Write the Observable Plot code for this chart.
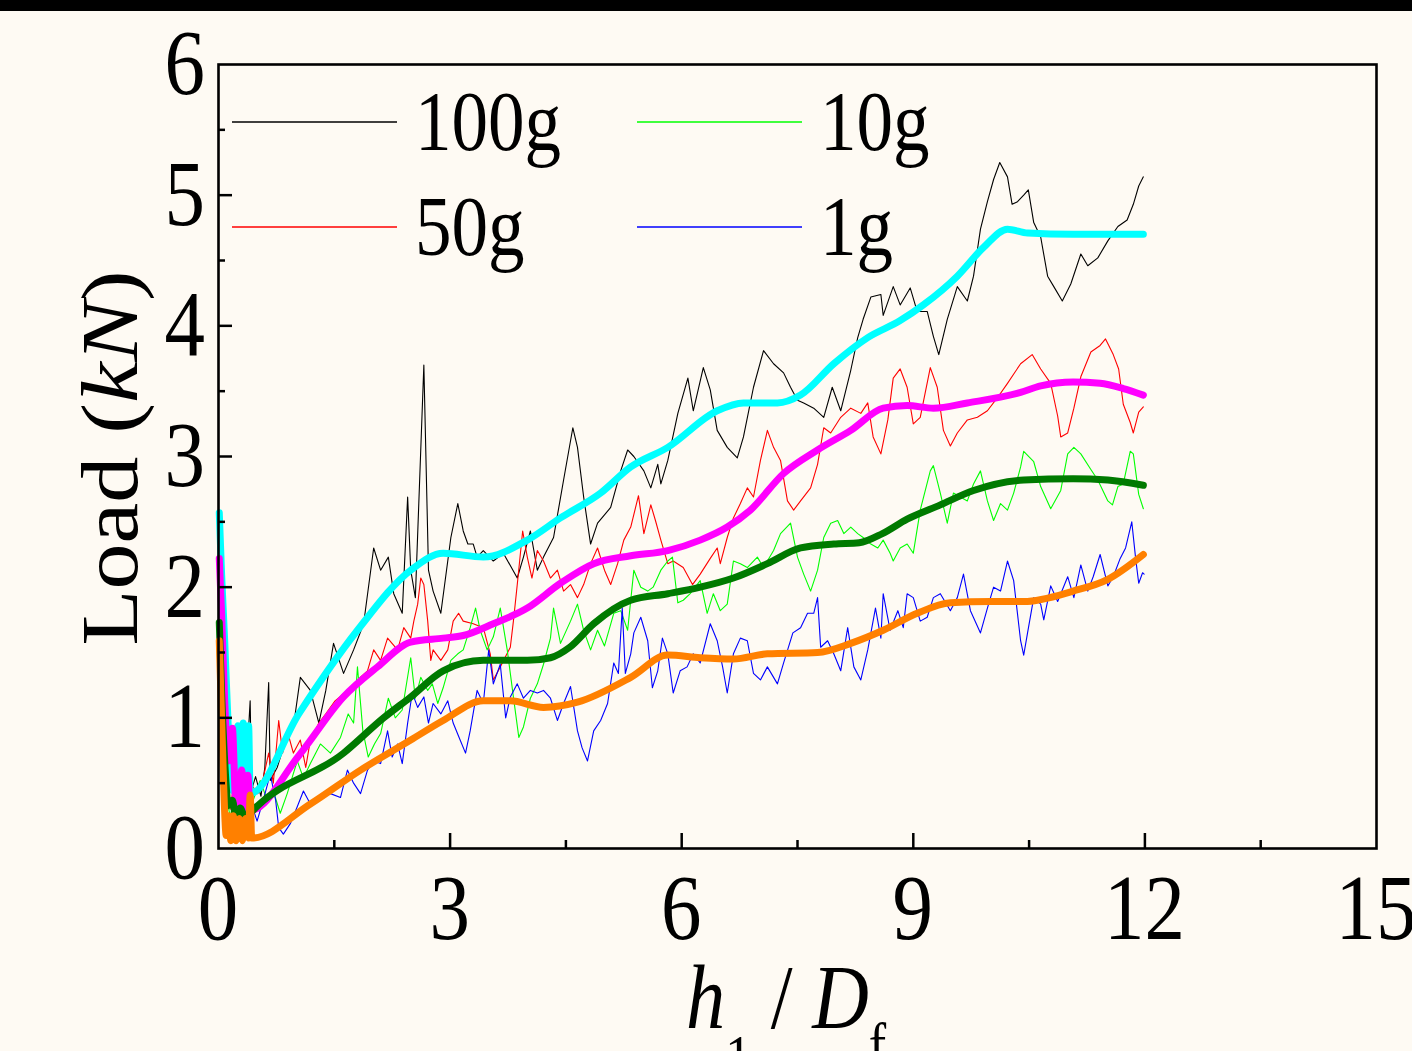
<!DOCTYPE html>
<html><head><meta charset="utf-8">
<script src="https://cdn.jsdelivr.net/npm/d3@7"></script>
<script src="https://cdn.jsdelivr.net/npm/@observablehq/plot@0.6"></script>
<style>
html,body{margin:0;padding:0;background:#fefaf3;}
#chart{width:1412px;height:1051px;overflow:hidden;}
</style></head><body><div id="chart"></div>
<script>
// ---- data ----
const seriesNames = ["100g", "50g", "10g", "1g"];
const rawColors = ["#000000", "#ff0000", "#00ff00", "#0000ff"];
const fitColors = ["#00ffff", "#ff00ff", "#007a00", "#ff8000"];
const xMajor = [0, 3, 6, 9, 12, 15];
const xMinor = [1.5, 4.5, 7.5, 10.5, 13.5];
const yMajor = [0, 1, 2, 3, 4, 5, 6];
const yMinor = [0.5, 1.5, 2.5, 3.5, 4.5, 5.5];

const raw100g = [[0.01,2.40],[0.05,1.60],[0.10,0.90],[0.15,0.55],[0.20,0.70],[0.25,0.40],[0.30,0.75],[0.35,0.50],[0.41,1.13],[0.43,0.45],[0.48,0.55],[0.55,0.40],[0.60,0.62],[0.65,1.27],[0.67,0.52],[0.76,0.62],[0.84,0.77],[0.97,0.93],[1.06,1.31],[1.19,1.21],[1.30,0.96],[1.39,1.21],[1.49,1.57],[1.62,1.34],[1.75,1.52],[1.88,1.72],[2.01,2.30],[2.10,2.13],[2.20,2.23],[2.27,1.95],[2.38,1.80],[2.45,2.69],[2.49,2.13],[2.55,1.92],[2.66,3.70],[2.72,2.13],[2.78,1.97],[2.88,1.80],[3.01,2.38],[3.10,2.64],[3.17,2.43],[3.23,2.33],[3.30,2.33],[3.35,2.23],[3.43,2.28],[3.56,2.20],[3.69,2.26],[3.87,2.07],[3.95,2.23],[4.04,2.43],[4.13,2.13],[4.21,2.23],[4.34,2.38],[4.47,2.82],[4.59,3.22],[4.65,3.07],[4.73,2.69],[4.82,2.33],[4.91,2.49],[5.08,2.61],[5.21,2.89],[5.30,3.05],[5.38,3.00],[5.51,2.89],[5.60,2.76],[5.69,2.94],[5.73,2.79],[5.82,2.97],[5.95,3.33],[6.08,3.60],[6.15,3.35],[6.28,3.68],[6.37,3.51],[6.46,3.20],[6.59,3.07],[6.72,2.99],[6.80,3.15],[6.93,3.53],[7.06,3.81],[7.19,3.71],[7.32,3.64],[7.41,3.53],[7.50,3.43],[7.58,3.41],[7.71,3.37],[7.84,3.30],[7.95,3.53],[8.06,3.35],[8.19,3.66],[8.28,3.91],[8.35,4.05],[8.45,4.22],[8.58,4.24],[8.61,4.08],[8.74,4.30],[8.83,4.16],[8.96,4.29],[9.05,4.11],[9.18,4.11],[9.26,3.92],[9.33,3.78],[9.44,4.05],[9.57,4.30],[9.70,4.19],[9.78,4.38],[9.87,4.74],[9.96,4.95],[10.04,5.12],[10.12,5.25],[10.22,5.14],[10.28,4.93],[10.35,4.95],[10.43,5.00],[10.49,5.04],[10.56,4.79],[10.65,4.68],[10.74,4.38],[10.82,4.30],[10.93,4.19],[11.04,4.32],[11.17,4.55],[11.26,4.46],[11.39,4.52],[11.52,4.65],[11.65,4.76],[11.77,4.81],[11.85,4.93],[11.92,5.07],[11.98,5.14]];

const raw50g = [[0.01,2.20],[0.05,1.20],[0.10,0.50],[0.15,0.30],[0.20,0.50],[0.25,0.20],[0.30,0.45],[0.35,0.25],[0.41,0.50],[0.51,0.42],[0.58,0.54],[0.65,0.73],[0.71,0.50],[0.78,0.98],[0.83,0.73],[0.90,0.88],[0.97,0.73],[1.06,0.83],[1.13,0.62],[1.19,0.83],[1.30,0.96],[1.39,1.03],[1.51,1.13],[1.67,1.21],[1.80,1.29],[1.93,1.36],[2.01,1.52],[2.10,1.44],[2.19,1.61],[2.32,1.52],[2.40,1.69],[2.49,1.61],[2.53,1.74],[2.58,1.87],[2.62,2.07],[2.66,2.02],[2.71,1.74],[2.75,1.44],[2.78,1.52],[2.88,1.44],[2.97,1.52],[3.04,1.74],[3.11,1.80],[3.17,1.74],[3.30,1.72],[3.43,1.69],[3.52,1.49],[3.56,1.29],[3.65,1.39],[3.78,1.54],[3.82,1.74],[3.87,2.02],[3.94,2.43],[4.00,2.23],[4.06,2.07],[4.13,2.28],[4.21,2.20],[4.30,2.07],[4.39,2.13],[4.47,1.97],[4.56,2.02],[4.65,1.92],[4.73,2.02],[4.82,2.18],[4.91,2.30],[5.00,2.13],[5.08,2.02],[5.17,2.18],[5.25,2.36],[5.34,2.46],[5.44,2.70],[5.51,2.41],[5.60,2.63],[5.66,2.51],[5.73,2.36],[5.82,2.18],[5.89,2.20],[6.02,2.15],[6.14,2.02],[6.24,2.10],[6.37,2.22],[6.46,2.30],[6.50,2.18],[6.59,2.38],[6.67,2.53],[6.76,2.64],[6.85,2.76],[6.93,2.69],[7.02,2.97],[7.11,3.20],[7.19,3.07],[7.28,2.97],[7.37,2.66],[7.45,2.59],[7.54,2.66],[7.67,2.76],[7.76,2.94],[7.84,3.22],[7.93,3.18],[8.06,3.30],[8.19,3.37],[8.32,3.33],[8.41,3.41],[8.48,3.15],[8.58,3.02],[8.67,3.28],[8.74,3.60],[8.83,3.67],[8.92,3.53],[9.00,3.25],[9.09,3.30],[9.22,3.68],[9.31,3.53],[9.39,3.20],[9.48,3.08],[9.57,3.18],[9.70,3.28],[9.83,3.30],[9.96,3.35],[10.09,3.45],[10.22,3.56],[10.39,3.71],[10.54,3.78],[10.65,3.67],[10.78,3.56],[10.87,3.31],[10.91,3.15],[11.00,3.18],[11.08,3.37],[11.17,3.61],[11.30,3.80],[11.42,3.85],[11.49,3.90],[11.59,3.78],[11.66,3.67],[11.72,3.40],[11.81,3.26],[11.85,3.18],[11.92,3.34],[11.98,3.38]];

const raw10g = [[0.01,1.70],[0.05,0.90],[0.10,0.40],[0.15,0.25],[0.20,0.35],[0.25,0.20],[0.30,0.30],[0.35,0.20],[0.41,0.30],[0.45,0.37],[0.54,0.52],[0.63,0.37],[0.71,0.44],[0.80,0.27],[0.89,0.42],[1.02,0.67],[1.10,0.54],[1.19,0.65],[1.32,0.80],[1.45,0.73],[1.58,0.85],[1.68,1.03],[1.75,0.96],[1.80,1.39],[1.87,0.90],[1.94,0.70],[2.02,0.80],[2.10,0.88],[2.20,1.15],[2.29,1.00],[2.38,1.06],[2.49,1.46],[2.55,1.15],[2.62,1.31],[2.71,1.21],[2.77,1.26],[2.84,1.11],[2.91,1.23],[3.01,1.44],[3.10,1.49],[3.17,1.52],[3.26,1.69],[3.33,1.84],[3.39,1.67],[3.48,1.52],[3.56,1.62],[3.65,1.84],[3.74,1.52],[3.82,1.16],[3.89,0.85],[3.95,0.93],[4.04,1.15],[4.13,1.26],[4.21,1.41],[4.30,1.61],[4.34,1.84],[4.43,1.57],[4.56,1.74],[4.65,1.87],[4.73,1.67],[4.82,1.52],[4.91,1.67],[5.00,1.55],[5.12,1.80],[5.21,1.82],[5.30,1.67],[5.38,2.13],[5.47,2.00],[5.56,1.97],[5.63,2.00],[5.73,2.13],[5.82,2.20],[5.88,2.23],[5.95,1.88],[6.02,1.90],[6.11,1.95],[6.24,2.05],[6.33,1.80],[6.41,1.95],[6.50,1.82],[6.59,1.87],[6.67,2.20],[6.76,2.18],[6.85,2.15],[6.98,2.23],[7.06,2.15],[7.19,2.28],[7.28,2.41],[7.41,2.49],[7.50,2.23],[7.58,2.10],[7.67,1.97],[7.76,2.13],[7.84,2.38],[7.93,2.49],[8.02,2.51],[8.10,2.41],[8.19,2.46],[8.28,2.41],[8.35,2.38],[8.45,2.33],[8.54,2.30],[8.61,2.36],[8.70,2.26],[8.74,2.20],[8.83,2.30],[8.92,2.33],[9.00,2.26],[9.09,2.59],[9.22,2.89],[9.26,2.93],[9.35,2.72],[9.44,2.49],[9.52,2.72],[9.61,2.69],[9.70,2.66],[9.78,2.79],[9.87,2.89],[9.96,2.66],[10.04,2.51],[10.13,2.64],[10.22,2.59],[10.30,2.72],[10.39,2.92],[10.43,3.04],[10.56,2.96],[10.65,2.77],[10.78,2.60],[10.91,2.74],[11.00,3.02],[11.08,3.07],[11.17,3.02],[11.30,2.90],[11.39,2.82],[11.52,2.66],[11.58,2.63],[11.65,2.77],[11.72,2.79],[11.81,3.04],[11.85,3.02],[11.92,2.71],[11.98,2.60]];

const raw1g = [[0.01,1.50],[0.05,0.70],[0.10,0.25],[0.15,0.12],[0.20,0.20],[0.25,0.08],[0.30,0.15],[0.35,0.08],[0.41,0.37],[0.50,0.21],[0.58,0.37],[0.67,0.57],[0.74,0.37],[0.78,0.16],[0.84,0.11],[0.93,0.19],[1.02,0.32],[1.10,0.44],[1.19,0.34],[1.32,0.39],[1.45,0.42],[1.58,0.39],[1.67,0.60],[1.75,0.50],[1.84,0.42],[1.93,0.60],[2.01,0.67],[2.10,0.65],[2.19,0.90],[2.25,0.70],[2.32,0.80],[2.38,0.65],[2.45,0.96],[2.51,1.19],[2.58,1.08],[2.66,1.16],[2.72,0.96],[2.78,1.11],[2.88,1.03],[2.97,1.13],[3.04,0.96],[3.13,0.83],[3.20,0.73],[3.26,0.90],[3.35,1.21],[3.43,1.11],[3.50,1.52],[3.56,1.26],[3.65,1.41],[3.72,1.00],[3.78,1.16],[3.87,1.26],[3.95,1.15],[4.04,1.21],[4.13,1.19],[4.21,1.21],[4.30,1.15],[4.39,0.98],[4.47,1.11],[4.56,1.24],[4.65,0.90],[4.71,0.77],[4.78,0.67],[4.86,0.90],[4.95,0.98],[5.04,1.11],[5.12,1.42],[5.18,1.34],[5.23,1.84],[5.27,1.34],[5.34,1.49],[5.38,1.65],[5.47,1.77],[5.56,1.59],[5.62,1.23],[5.69,1.36],[5.75,1.61],[5.82,1.49],[5.89,1.19],[5.98,1.36],[6.07,1.39],[6.15,1.49],[6.24,1.42],[6.37,1.72],[6.46,1.59],[6.53,1.39],[6.59,1.19],[6.67,1.49],[6.76,1.61],[6.85,1.59],[6.93,1.34],[7.02,1.29],[7.11,1.39],[7.24,1.26],[7.32,1.42],[7.44,1.65],[7.54,1.69],[7.63,1.80],[7.71,1.80],[7.76,1.92],[7.80,1.54],[7.89,1.59],[7.97,1.49],[8.06,1.36],[8.15,1.69],[8.23,1.39],[8.32,1.29],[8.41,1.52],[8.51,1.84],[8.58,1.61],[8.61,1.95],[8.70,1.67],[8.80,1.82],[8.87,1.69],[8.92,1.95],[9.00,1.92],[9.09,1.74],[9.18,1.77],[9.26,1.92],[9.35,1.95],[9.48,1.82],[9.57,1.92],[9.65,2.10],[9.74,1.82],[9.87,1.65],[9.96,1.84],[10.04,2.00],[10.13,1.97],[10.22,2.20],[10.30,2.05],[10.39,1.59],[10.43,1.48],[10.48,1.65],[10.56,1.92],[10.65,1.87],[10.69,1.75],[10.78,2.01],[10.87,1.89],[11.00,2.08],[11.08,1.92],[11.17,2.17],[11.26,1.97],[11.33,2.08],[11.42,2.25],[11.52,2.01],[11.59,2.08],[11.68,2.22],[11.75,2.30],[11.83,2.50],[11.88,2.22],[11.92,2.03],[11.97,2.11],[11.99,2.10]];

const fit100g = [[0.01,2.57],[0.04,2.10],[0.08,1.59],[0.13,0.88],[0.19,0.44],[0.25,0.94],[0.28,0.37],[0.32,0.96],[0.36,0.41],[0.39,0.94],[0.41,0.42],[1.04,1.03],[1.80,1.67],[2.49,2.13],[2.91,2.26],[3.43,2.23],[4.00,2.36],[4.43,2.53],[4.95,2.72],[5.34,2.92],[5.82,3.07],[6.46,3.35],[6.80,3.41],[7.24,3.41],[7.54,3.47],[7.97,3.71],[8.41,3.91],[8.83,4.04],[9.13,4.16],[9.57,4.38],[9.91,4.60],[10.22,4.74],[10.48,4.71],[11.07,4.70],[11.98,4.70]];

const fit50g = [[0.01,2.22],[0.04,1.80],[0.08,1.13],[0.13,0.67],[0.18,0.92],[0.22,0.37],[0.26,0.27],[0.30,0.60],[0.34,0.28],[0.38,0.56],[0.41,0.29],[1.04,0.71],[1.62,1.16],[2.06,1.39],[2.49,1.58],[2.91,1.61],[3.17,1.63],[3.56,1.72],[4.00,1.84],[4.43,2.03],[4.86,2.18],[5.34,2.24],[5.82,2.28],[6.24,2.36],[6.59,2.46],[6.89,2.59],[7.32,2.87],[7.76,3.05],[8.19,3.20],[8.61,3.37],[8.92,3.39],[9.26,3.37],[9.70,3.41],[10.39,3.49],[10.65,3.54],[11.07,3.57],[11.42,3.56],[11.72,3.52],[11.98,3.47]];

const fit10g = [[0.01,1.73],[0.04,1.20],[0.08,0.67],[0.13,0.33],[0.18,0.37],[0.23,0.21],[0.28,0.31],[0.35,0.23],[0.41,0.27],[1.62,0.73],[2.14,1.00],[2.49,1.16],[2.91,1.36],[3.43,1.44],[4.00,1.44],[4.30,1.46],[4.55,1.54],[4.86,1.72],[5.34,1.90],[5.82,1.95],[6.24,2.00],[6.67,2.07],[7.11,2.18],[7.54,2.30],[7.97,2.33],[8.30,2.34],[8.60,2.41],[8.92,2.52],[9.35,2.63],[9.78,2.74],[10.43,2.82],[11.07,2.83],[11.52,2.82],[11.98,2.78]];

const fit1g = [[0.01,1.59],[0.04,1.00],[0.065,0.52],[0.10,0.10],[0.13,0.25],[0.16,0.06],[0.19,0.25],[0.23,0.06],[0.27,0.23],[0.31,0.06],[0.35,0.23],[0.39,0.08],[0.41,0.41],[0.43,0.08],[1.19,0.34],[1.84,0.60],[2.49,0.83],[2.91,0.98],[3.43,1.13],[3.78,1.13],[4.21,1.08],[4.65,1.12],[5.34,1.31],[5.82,1.48],[6.24,1.46],[6.67,1.45],[7.11,1.49],[7.76,1.50],[8.19,1.57],[8.61,1.67],[9.05,1.80],[9.48,1.88],[10.00,1.89],[10.43,1.89],[11.07,1.97],[11.52,2.06],[11.98,2.25]];

// ---- build ----
const FONT = "'Liberation Serif','Times New Roman',Times,serif";
const SQX = 0.87;
const rawSets = [raw100g, raw50g, raw10g, raw1g];
const fitSets = [fit100g, fit50g, fit10g, fit1g];
const toRows = s => s.map(([x, y]) => ({x, y}));

const W = 1412, H = 1051, ML = 218, MR = 36, MT = 64, MB = 203;
const innerW = W - ML - MR, innerH = H - MT - MB;

const marks = [];
rawSets.forEach((s, i) => marks.push(Plot.line(toRows(s), {x: "x", y: "y", stroke: rawColors[i], strokeWidth: 1.1, curve: "linear"})));
fitSets.forEach((s, i) => marks.push(Plot.line(toRows(s), {x: "x", y: "y", stroke: fitColors[i], strokeWidth: 7, curve: "monotone-x", strokeLinejoin: "round"})));
marks.push(
  Plot.tickX(xMajor.slice(1, -1), {x: d => d, insetTop: innerH - 15, stroke: "black", strokeWidth: 2.5}),
  Plot.tickX(xMinor, {x: d => d, insetTop: innerH - 8, stroke: "black", strokeWidth: 2.5}),
  Plot.tickY(yMajor.slice(1, -1), {y: d => d, insetRight: innerW - 14, stroke: "black", strokeWidth: 2.5}),
  Plot.tickY(yMinor, {y: d => d, insetRight: innerW - 7, stroke: "black", strokeWidth: 2.5}),
  Plot.frame({stroke: "black", strokeWidth: 2.6})
);

const plot = Plot.plot({
  width: W, height: H,
  marginLeft: ML, marginRight: MR, marginTop: MT, marginBottom: MB,
  x: {domain: [0, 15], axis: null},
  y: {domain: [0, 6], axis: null},
  style: {background: "#fefaf3", fontFamily: FONT, overflow: "visible"},
  marks
});

const svg = d3.select(plot);
const xs = plot.scale("x"), ys = plot.scale("y");

// background + top black band
svg.insert("rect", ":first-child").attr("x", 0).attr("y", 0).attr("width", W).attr("height", 11).attr("fill", "#000");
svg.insert("rect", ":first-child").attr("x", 0).attr("y", 0).attr("width", W).attr("height", H).attr("fill", "#fefaf3");

// tick labels (positions from Plot's scales)
const tl = svg.append("g").attr("font-family", FONT).attr("font-size", 93).attr("fill", "black");
xMajor.forEach(v => {
  tl.append("text").attr("text-anchor", "middle")
    .attr("transform", `translate(${xs.apply(v)},${H - MB + 91}) scale(${SQX},1)`).text(String(v));
});
yMajor.forEach(v => {
  tl.append("text").attr("text-anchor", "end")
    .attr("transform", `translate(${ML - 13},${ys.apply(v) + 30}) scale(${SQX},1)`).text(String(v));
});

// legend
const leg = svg.append("g");
const legCols = [232, 637], legRows = [122, 227];
seriesNames.forEach((name, i) => {
  const cx = legCols[i < 2 ? 0 : 1];
  const cy = legRows[i % 2];
  leg.append("line").attr("x1", cx).attr("x2", cx + 165).attr("y1", cy).attr("y2", cy)
    .attr("stroke", rawColors[i]).attr("stroke-width", 1.4);
  leg.append("text").attr("text-anchor", "start")
    .attr("transform", `translate(${cx + 183},${cy + 28}) scale(${SQX},1)`)
    .attr("font-family", FONT).attr("font-size", 84).attr("fill", "black").text(name);
});

// y axis title
const yt = svg.append("text").attr("transform", `translate(137,458) rotate(-90) scale(1,${SQX})`)
  .attr("text-anchor", "middle").attr("font-family", FONT).attr("font-size", 92).attr("fill", "black");
yt.append("tspan").text("Load (");
yt.append("tspan").attr("font-style", "italic").text("kN");
yt.append("tspan").text(")");

// x axis title
const xt = svg.append("text").attr("text-anchor", "start").attr("transform", `translate(686,1028) scale(${SQX},1)`)
  .attr("font-family", FONT).attr("font-size", 90).attr("fill", "black");
xt.append("tspan").attr("font-style", "italic").text("h");
xt.append("tspan").attr("font-size", 60).attr("dy", 48).text("1");
xt.append("tspan").attr("dy", -48).text("\u00a0/\u00a0");
xt.append("tspan").attr("font-style", "italic").text("D");
xt.append("tspan").attr("font-size", 60).attr("dy", 36).text("f");

document.getElementById("chart").appendChild(plot);
</script>
</body></html>
